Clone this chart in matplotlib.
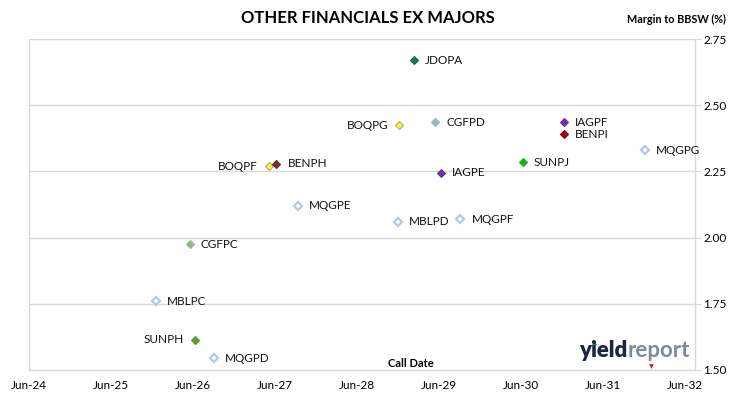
import matplotlib
matplotlib.use('Agg')
import matplotlib.pyplot as plt
import matplotlib.dates as mdates
from matplotlib.lines import Line2D
from datetime import date

plt.rcParams['font.family'] = ['Lato', 'DejaVu Sans']

# call dates and margins
names = ['JDOPA', 'BOQPG', 'CGFPD', 'IAGPF', 'BENPI', 'MQGPG', 'SUNPJ', 'IAGPE',
         'BOQPF', 'BENPH', 'MQGPE', 'CGFPC', 'MBLPC', 'SUNPH', 'MQGPD', 'MBLPD', 'MQGPF']
call_dates = ['2029-02-10', '2028-12-07', '2029-05-15', '2030-12-08', '2030-12-08',
              '2031-12-04', '2030-06-08', '2029-06-08', '2027-05-06', '2027-06-08',
              '2027-09-11', '2026-05-17', '2025-12-17', '2026-06-12', '2026-09-02',
              '2028-12-01', '2029-09-04']
margins = [2.67, 2.425, 2.435, 2.435, 2.39, 2.33, 2.285, 2.245,
           2.27, 2.28, 2.12, 1.975, 1.76, 1.615, 1.545, 2.06, 2.07]
label_side = ['r', 'l', 'r', 'r', 'r', 'r', 'r', 'r',
              'l', 'r', 'r', 'r', 'r', 'l', 'r', 'r', 'r']

# fill / edge colours per security (None fill = hollow)
face = ['#1E7B50', '#FFFF00', '#9DBBA6', '#7030A0', '#A00020', None, '#1FB01F', '#7030A0',
        '#FFFF00', '#7B3030', None, '#9BBB59', None, '#5B9B3A', None, None, None]
edge = ['#1E6B48', '#A6A6A6', '#95B3D7', '#7030A0', '#8B0000', '#B4C7E7', '#1FB01F', '#7030A0',
        '#A6A6A6', '#6B2A2A', '#B4C7E7', '#95B3D7', '#B4C7E7', '#5B9B3A', '#B4C7E7', '#B4C7E7', '#B4C7E7']

year_ticks = [date(y, 6, 1) for y in range(2024, 2033)]
yticks = [1.50, 1.75, 2.00, 2.25, 2.50, 2.75]

fig = plt.figure(figsize=(7.30, 3.99), dpi=100)
ax = fig.add_axes([0.0397, 0.0727, 0.9123, 0.8293])

for i in range(len(names)):
    d = date.fromisoformat(call_dates[i])
    if face[i] is None:
        ax.plot([d], [margins[i]], marker='D', ms=4.2, mfc='white', mec=edge[i], mew=1.6, ls='none')
    else:
        ax.plot([d], [margins[i]], marker='D', ms=4.5, mfc=face[i], mec=edge[i], mew=0.8, ls='none')
    if label_side[i] == 'r':
        ax.annotate(names[i], (d, margins[i]), xytext=(8, 0), textcoords='offset points',
                    ha='left', va='center', fontsize=8.5, color='#111111')
    else:
        ax.annotate(names[i], (d, margins[i]), xytext=(-8, 0), textcoords='offset points',
                    ha='right', va='center', fontsize=8.5, color='#111111')

ax.set_xlim(date(2024, 6, 1), date(2032, 7, 15))
ax.set_ylim(1.5, 2.75)
ax.set_xticks(year_ticks)
ax.xaxis.set_major_formatter(mdates.DateFormatter('%b-%y'))
ax.set_yticks(yticks)
ax.set_yticklabels(['%.2f' % v for v in yticks])
ax.yaxis.tick_right()
ax.tick_params(axis='y', length=4, color='#D9D9D9', labelsize=8.5, pad=2)
ax.tick_params(axis='x', length=0, labelsize=8.5, pad=7)
ax.grid(axis='y', color='#D9D9D9', lw=1)
ax.spines['top'].set_visible(False)
for s in ['left', 'right', 'bottom']:
    ax.spines[s].set_color('#D9D9D9')
    ax.spines[s].set_linewidth(1)
ax.set_axisbelow(True)

fig.text(0.504, 0.955, 'OTHER FINANCIALS EX MAJORS', ha='center', va='center',
         fontsize=12, fontweight='bold')
fig.text(0.994, 0.952, 'Margin to BBSW (%)', ha='right', va='center',
         fontsize=7.8, fontweight='bold')
fig.text(0.563, 0.09, 'Call Date', ha='center', va='center', fontsize=8, fontweight='bold')

# yieldreport logo
fig.text(0.859, 0.106, 'yield', ha='right', va='baseline', fontsize=16,
         fontweight='heavy', color='#1C2541')
fig.text(0.860, 0.106, 'report', ha='left', va='baseline', fontsize=16,
         fontweight='bold', color='#7F8A99')
fig.add_artist(Line2D([0.8135], [0.143], marker='^', ms=3.5, color='#1E7B50',
                      mew=0, ls='none', transform=fig.transFigure))
fig.add_artist(Line2D([0.892], [0.082], marker='v', ms=3.5, color='#E02020',
                      mew=0, ls='none', transform=fig.transFigure))

fig.savefig('out.png', dpi=100)
